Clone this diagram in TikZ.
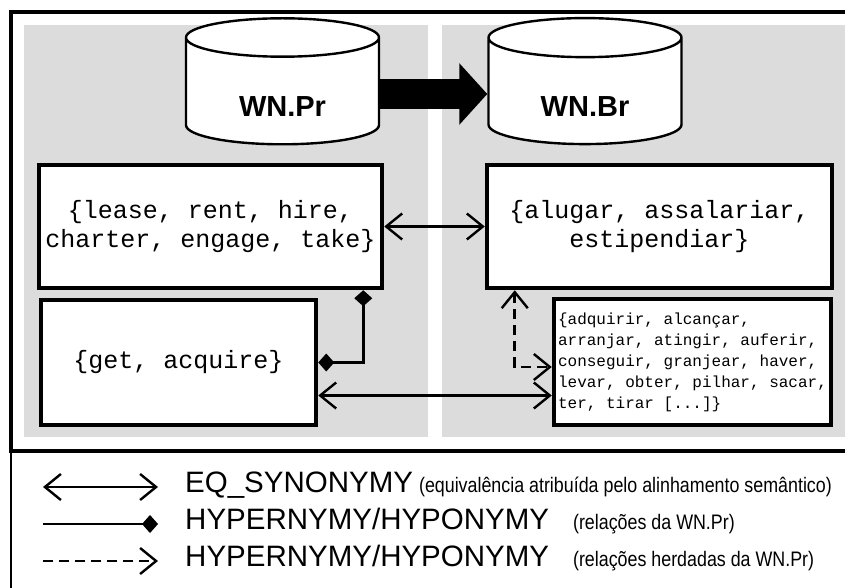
\documentclass[tikz,border=0pt]{standalone}
\usepackage{fontspec}
\setmainfont{Liberation Sans}
\setmonofont{Liberation Mono}
\newfontfamily\narrowsans{Liberation Sans}[FakeStretch=0.85]
\usetikzlibrary{arrows.meta,shapes.geometric}
\definecolor{panel}{RGB}{220,220,220}
\newcommand\legnote[1]{{\narrowsans\fontsize{21}{23}\selectfont #1}}
\newcommand\dbtext[1]{\raisebox{-13pt}[\height][\depth]{#1}}
\tikzset{
  >={Straight Barb[length=16pt,width=26pt,line width=2.4pt]},
  db/.style={cylinder, shape border rotate=90, aspect=0.41, draw, fill=white,
    line width=2.4pt, minimum width=193pt, minimum height=126pt,
    font=\bfseries\fontsize{29}{31}\selectfont},
  synset/.style={draw, fill=white, line width=4.5pt, align=center,
    font=\ttfamily\fontsize{25}{28.5}\selectfont},
  flow/.style={line width=30pt, -{Triangle[length=28pt,width=60pt]}},
  syn/.style={<->, line width=2.8pt},
  hyp/.style={arrows={Diamond[length=16pt,width=18pt]-Diamond[length=16pt,width=18pt]}, line width=2.8pt},
  inh/.style={<->, line width=2.6pt, dash pattern=on 10pt off 6pt},
  legend/.style={anchor=base west, inner sep=0pt, font=\fontsize{29.5}{32}\selectfont}
}
\begin{document}
\begin{tikzpicture}[x=1pt,y=-1pt]
      \useasboundingbox (0,0) rectangle (845,588);
      \fill[panel] (24,25) rectangle (428,437);
      \fill[panel] (442,25) rectangle (845,437);
      \draw[line width=4pt] (850,12) -- (10.5,12) -- (10.5,451) -- (850,451);
      \draw[line width=1.2pt] (11,451) -- (11,590);
      \draw
        (282.5,94) node[db] (pr) {\dbtext{WN.Pr}}
        (585,94) node[db] (br) {\dbtext{WN.Br}}
        (210.5,226.5) node[synset, minimum width=343pt, minimum height=123pt] (lr)
          {\{lease, rent, hire,\\charter, engage, take\}}
        (659.5,226.5) node[synset, minimum width=345pt, minimum height=123pt] (al)
          {\{alugar, assalariar,\\estipendiar\}}
        (178.5,362.5) node[synset, minimum width=275pt, minimum height=125pt] (ga)
          {\{get, acquire\}}
        (692.5,362) node[synset, minimum width=277pt, minimum height=126pt, align=left,
          font=\ttfamily\fontsize{16}{21}\selectfont] (ad)
          {\{adquirir, alcançar,\\arranjar, atingir, auferir,\\conseguir, granjear, haver,\\levar, obter, pilhar, sacar,\\ter, tirar [...]\}};
      \begin{scope}
        \draw[flow] (pr.east) -- (br.west);
        \draw[syn] (lr.east) -- (al.west);
        \draw[syn] ([yshift=-33pt]ga.east) -- ([yshift=-33pt]ga.east -| ad.west);
        \draw[hyp] ([xshift=-21pt]lr.south east) |- (ga.east);
        \draw[inh] ([xshift=30pt]al.south west) |- ([yshift=-5pt]ad.west);
      \end{scope}
      \foreach \k/\yy in {1/487,2/524,3/561}{
        \coordinate (a\k) at (43,\yy);
        \coordinate (b\k) at (158,\yy);
      }
      \draw[syn] (a1) -- (b1);
      \draw[line width=2.8pt, -{Diamond[length=16pt,width=18pt]}] (a2) -- (b2);
      \draw[line width=2.6pt, dash pattern=on 10pt off 6pt, ->] (a3) -- (b3);
      \node[legend] (t1) at (185,492)
        {EQ\_SYNONYMY\hspace{6pt}\legnote{(equivalência atribuída pelo alinhamento semântico)}};
      \node[legend] (t2) at (185,529)
        {HYPERNYMY/HYPONYMY\hspace{24pt}\legnote{(relações da WN.Pr)}};
      \node[legend] (t3) at (185,566)
        {HYPERNYMY/HYPONYMY\hspace{24pt}\legnote{(relações herdadas da WN.Pr)}};
\end{tikzpicture}
\end{document}
